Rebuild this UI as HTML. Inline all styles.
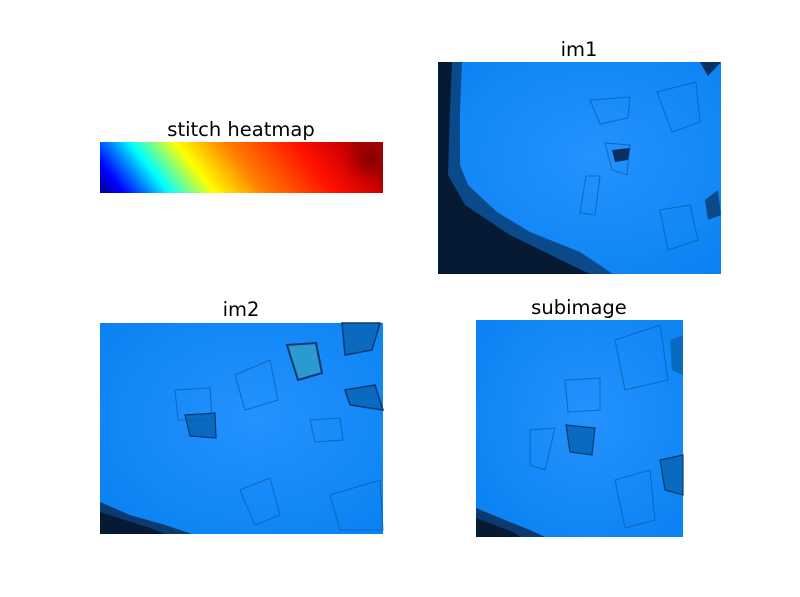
<!DOCTYPE html>
<html><head><meta charset="utf-8"><style>
html,body{margin:0;padding:0;background:#fff;}
svg{display:block;}
text{font-family:"DejaVu Sans","Liberation Sans",sans-serif;font-size:19.5px;fill:#000;}
</style></head><body>
<svg width="800" height="597" viewBox="0 0 800 597">
<defs>
<linearGradient id="jet" gradientUnits="userSpaceOnUse" x1="100" y1="193" x2="285" y2="48">
<stop offset="0" stop-color="#00008f"/>
<stop offset="0.08" stop-color="#0000ff"/>
<stop offset="0.16" stop-color="#0080ff"/>
<stop offset="0.234" stop-color="#00ffff"/>
<stop offset="0.31" stop-color="#80ff80"/>
<stop offset="0.385" stop-color="#ffff00"/>
<stop offset="0.55" stop-color="#ff8000"/>
<stop offset="0.79" stop-color="#ff1000"/>
<stop offset="0.93" stop-color="#d00000"/>
<stop offset="1" stop-color="#a00000"/>
</linearGradient>
<radialGradient id="spot" cx="0.5" cy="0.5" r="0.5">
<stop offset="0" stop-color="#800000" stop-opacity="0.9"/>
<stop offset="1" stop-color="#b00000" stop-opacity="0"/>
</radialGradient>
<radialGradient id="blueimg" cx="0.55" cy="0.45" r="0.7">
<stop offset="0" stop-color="#2492ff"/>
<stop offset="1" stop-color="#0a82f2"/>
</radialGradient>
<clipPath id="hmclip"><rect x="100" y="142" width="283" height="51"/></clipPath>
</defs>

<g>
<text x="241" y="136" text-anchor="middle">stitch heatmap</text>
<g clip-path="url(#hmclip)">
<rect x="100" y="142" width="283" height="51" fill="url(#jet)"/>
<ellipse cx="370" cy="160" rx="30" ry="25" fill="url(#spot)"/>
</g>
</g>

<g>
<text x="579" y="56" text-anchor="middle">im1</text>
<rect x="438" y="62" width="283" height="212" fill="url(#blueimg)"/>
<path d="M438,62 L462,62 L460,110 L460,165 L468,185 L497,212 L530,232 L580,252 L613,274 L438,274 Z" fill="#0b4a8a"/>
<path d="M438,62 L452,62 L450,110 L448,175 L465,205 L510,235 L565,262 L590,274 L438,274 Z" fill="#061a33"/>
<g fill="none" stroke="#0a5fb0" stroke-width="1" opacity="0.8">
<path d="M605,143 L630,145 L627,175 L612,170 Z"/><path d="M657,92 L696,82 L700,122 L672,132 Z"/>
<path d="M590,100 L630,97 L628,118 L600,124 Z"/><path d="M660,210 L690,205 L698,240 L668,250 Z"/>
<path d="M586,176 L600,176 L595,215 L580,213 Z"/>
</g>
<path d="M612,150 L630,148 L628,160 L615,162 Z" fill="#073060"/>
<path d="M700,62 L721,62 L708,76 Z" fill="#073060"/><path d="M705,200 L718,190 L721,215 L708,220 Z" fill="#0b4a8a"/>
</g>

<g>
<text x="241" y="316" text-anchor="middle">im2</text>
<rect x="100" y="323" width="283" height="211" fill="url(#blueimg)"/>
<path d="M100,502 L130,515 L165,525 L192,534 L100,534 Z" fill="#0a3a70"/>
<path d="M100,512 L150,528 L165,534 L100,534 Z" fill="#061a33"/>
<path d="M287,345 L316,343 L322,373 L298,380 Z" fill="#2a9ad0" stroke="#0a3a70" stroke-width="2"/>
<path d="M342,323 L380,323 L372,350 L345,355 Z" fill="#0a6ac0" stroke="#0a3a70" stroke-width="1.5"/>
<path d="M345,390 L375,385 L383,410 L350,405 Z" fill="#0a6ac0" stroke="#0a3a70" stroke-width="1.5"/>
<path d="M185,415 L215,413 L216,438 L190,436 Z" fill="#0a6ac0" stroke="#0a3a70" stroke-width="1.2"/>
<g fill="none" stroke="#0a5fb0" stroke-width="1" opacity="0.8">
<path d="M235,375 L270,360 L278,400 L245,410 Z"/><path d="M175,390 L210,388 L212,420 L178,420 Z"/>
<path d="M240,490 L270,478 L280,515 L255,525 Z"/><path d="M330,495 L380,480 L383,530 L340,530 Z"/>
<path d="M310,420 L340,418 L343,440 L315,442 Z"/>
</g>
</g>

<g>
<text x="579" y="314" text-anchor="middle">subimage</text>
<rect x="476" y="320" width="207" height="217" fill="url(#blueimg)"/>
<path d="M476,508 L505,520 L530,530 L545,537 L476,537 Z" fill="#0a3a70"/>
<path d="M476,518 L515,533 L520,537 L476,537 Z" fill="#061a33"/>
<path d="M566,425 L595,428 L592,455 L570,452 Z" fill="#0a6ac0" stroke="#0a3a70" stroke-width="1.2"/>
<g fill="none" stroke="#0a5fb0" stroke-width="1" opacity="0.8">
<path d="M565,380 L600,378 L600,410 L568,412 Z"/><path d="M615,340 L660,325 L668,380 L625,390 Z"/>
<path d="M615,480 L650,470 L655,520 L625,528 Z"/><path d="M530,430 L555,428 L545,470 L530,465 Z"/>
</g>
<path d="M660,460 L683,455 L683,495 L665,490 Z" fill="#0a6ac0" stroke="#0a3a70" stroke-width="1.2"/>
<path d="M670,340 L683,335 L683,375 L672,370 Z" fill="#0a6ac0"/>
</g>
</svg>
</body></html>
